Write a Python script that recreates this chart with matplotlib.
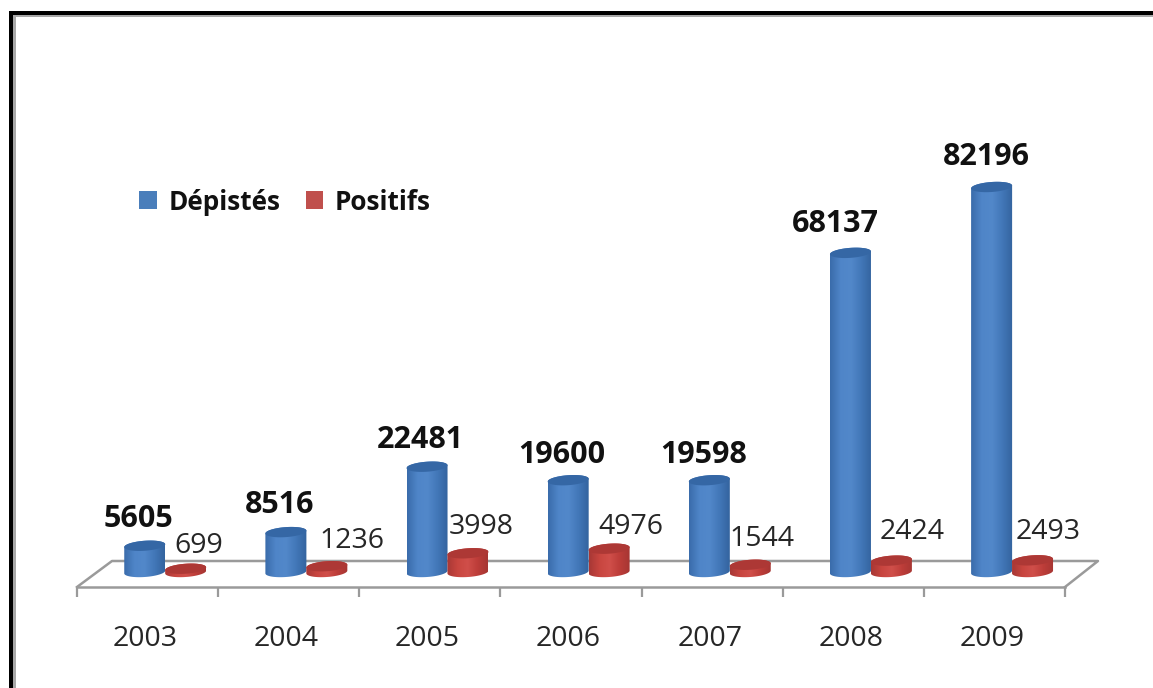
import numpy as np
import matplotlib
matplotlib.use("Agg")
import matplotlib.pyplot as plt
from matplotlib.patches import Patch, Polygon, Rectangle
from matplotlib.colors import LinearSegmentedColormap
from matplotlib.lines import Line2D

years = ["2003", "2004", "2005", "2006", "2007", "2008", "2009"]
depistes = [5605, 8516, 22481, 19600, 19598, 68137, 82196]
positifs = [699, 1236, 3998, 4976, 1544, 2424, 2493]

W, H = 1153, 688
PX_PER_UNIT = 385 / 82196
X0, X1 = 77, 1065
Y_FRONT, Y_TOP = 587, 100
Y_ZERO = 572
CAT_PX = (X1 - X0) / 7
FONT = "Open Sans"

fig = plt.figure(figsize=(W / 100, H / 100), dpi=100, facecolor="white")
ax = fig.add_axes([X0 / W, 1 - Y_FRONT / H, (X1 - X0) / W, (Y_FRONT - Y_TOP) / H])
ylim = (-(Y_FRONT - Y_ZERO) / PX_PER_UNIT, (Y_ZERO - Y_TOP) / PX_PER_UNIT)
ax.set_xlim(0, 7)
ax.set_ylim(*ylim)
ax.patch.set_alpha(0)
for s in ["top", "left", "right"]:
    ax.spines[s].set_visible(False)
GREY = "#9a9a9a"
ax.spines["bottom"].set_color(GREY)
ax.spines["bottom"].set_linewidth(1.8)
ax.set_yticks([])
ax.set_xticks(range(8))
ax.set_xticklabels([])
ax.tick_params(axis="x", which="major", length=7, width=1.6, color=GREY)
ax.set_xticks(np.arange(7) + 0.483, labels=years, minor=True)
ax.tick_params(axis="x", which="minor", length=0, pad=27, labelsize=20.5, labelcolor="#262626")
for lab in ax.get_xticklabels(minor=True):
    lab.set_family(FONT)


def dy(px):
    return px / PX_PER_UNIT


# 3D floor behind the bars
yb = dy(Y_ZERO - 561)
yf = dy(Y_ZERO - Y_FRONT)
ax.add_line(Line2D([0, 35 / CAT_PX, (1098 - X0) / CAT_PX, 7], [yf, yb, yb, yf],
                   color=GREY, lw=1.8, clip_on=False, zorder=1))

blue_cmap = LinearSegmentedColormap.from_list("b", ["#3a6cab", "#4f85c8", "#5288ca", "#4277b8", "#34649f"])
red_cmap = LinearSegmentedColormap.from_list("r", ["#a83835", "#c8453f", "#d04f4a", "#bd3d39", "#a63633"])
grad = np.linspace(0, 1, 64).reshape(1, -1)
t_half = np.linspace(0, np.pi, 60)
TILT = 0.28


def cylinder(xc, value, cmap, top, zorder):
    w = 41 / CAT_PX
    e = dy(5)
    a = w / 2
    # upper half of the top rim (right to left), then lower half of the base (left to right)
    top_x = xc + a * np.cos(t_half)
    top_y = value + e * (np.sin(t_half) + TILT * np.cos(t_half))
    base_x = xc - a * np.cos(t_half)
    base_y = -e * (np.sin(t_half) + TILT * np.cos(t_half))
    body = Polygon(np.column_stack([np.r_[top_x, base_x], np.r_[top_y, base_y]]),
                   fc="none", ec="none", transform=ax.transData)
    ax.add_patch(body)
    im = ax.imshow(grad, cmap=cmap, extent=(xc - a, xc + a, -e * 1.4, value + e * 1.4),
                   aspect="auto", zorder=zorder, interpolation="bilinear")
    im.set_clip_path(body)
    t = np.linspace(0, 2 * np.pi, 120)
    ax.add_patch(Polygon(np.column_stack([xc + a * np.cos(t),
                                          value + e * (np.sin(t) + TILT * np.cos(t))]),
                         fc=top, ec="none", zorder=zorder + 0.1))


blue_pos = np.arange(7) + 0.48
red_pos = np.arange(7) + 0.77
for i in range(7):
    cylinder(blue_pos[i], depistes[i], blue_cmap, "#3567a5", 3)
    cylinder(red_pos[i], positifs[i], red_cmap, "#ad3835", 4)
ax.set_xlim(0, 7)
ax.set_ylim(*ylim)

# label offsets from the bar top, in pixels (converted to points)
blue_off = [(-6, 27), (-6, 27), (-7, 27), (-6, 25), (-6, 25), (-15, 29), (-5, 30)]
red_off = [(13, 23), (25, 25), (13, 26), (22, 22), (12, 26), (21, 29), (16, 28)]
for i in range(7):
    ax.annotate(str(depistes[i]), (blue_pos[i], depistes[i]),
                xytext=(blue_off[i][0] * .72, blue_off[i][1] * .72), textcoords="offset points",
                ha="center", va="center", fontsize=22, fontweight="bold", color="#111111",
                family=FONT, annotation_clip=False, zorder=6)
    ax.annotate(str(positifs[i]), (red_pos[i], positifs[i]),
                xytext=(red_off[i][0] * .72, red_off[i][1] * .72), textcoords="offset points",
                ha="center", va="center", fontsize=20.5, color="#262626",
                family=FONT, annotation_clip=False, zorder=6)

handles = [Patch(fc="#4a7ebb", ec="none", label="Dépistés"),
           Patch(fc="#c0504d", ec="none", label="Positifs")]
fig.legend(handles=handles, loc="center left", bbox_to_anchor=(121 / W, 1 - 202 / H),
           ncol=2, frameon=False, prop={"size": 18.8, "weight": "bold", "family": FONT},
           handlelength=0.68, handleheight=0.68, handletextpad=0.45, columnspacing=0.95,
           labelcolor="#111111", borderpad=0.2)

# picture frame: black edge with grey inner shadow, top and left only
for (x, y, w, h, c) in [(9, 11, 1144, 4, "black"), (9, 11, 4, 677, "black"),
                        (13, 15, 1140, 2, "#a8a8a8"), (13, 15, 3, 673, "#a8a8a8")]:
    fig.add_artist(Rectangle((x / W, 1 - (y + h) / H), w / W, h / H, fc=c, ec="none",
                             transform=fig.transFigure))

fig.savefig("out.png", dpi=100)
